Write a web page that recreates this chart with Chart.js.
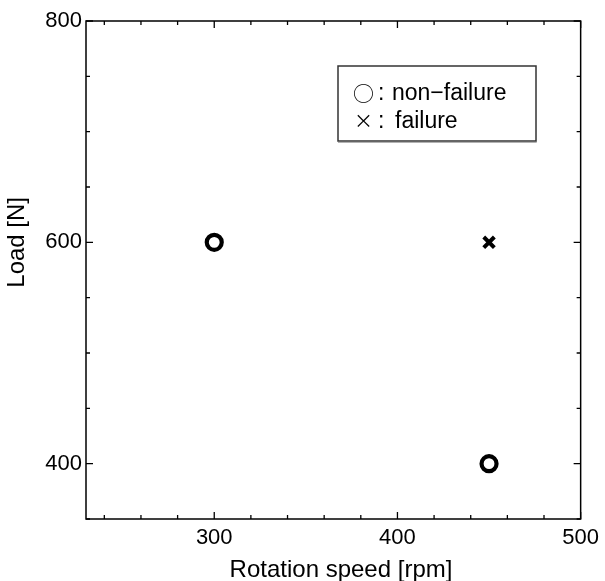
<!DOCTYPE html>
<html>
<head>
<meta charset="utf-8">
<script src="https://cdn.jsdelivr.net/npm/chart.js@4.4.1/dist/chart.umd.min.js"></script>
<style>
  html, body { margin: 0; padding: 0; background: #fff; }
  #wrap { width: 605px; height: 581px; }
</style>
</head>
<body>
<div id="wrap"><canvas id="c" width="605" height="581"></canvas></div>
<script>
// ---- data ----
const nonFailureSpeed = [300, 450];
const nonFailureLoad  = [600, 400];
const failureSpeed = [450];
const failureLoad  = [600];

const xMin = 230, xMax = 500;
const yMin = 350, yMax = 800;
const xMajorTicks = [300, 400, 500];
const xMinorTicks = [240, 260, 280, 320, 340, 360, 380, 420, 440, 460, 480];
const yMajorTicks = [400, 600, 800];
const yMinorTicks = [350, 450, 500, 550, 650, 700, 750];

const xTitle = 'Rotation speed [rpm]';
const yTitle = 'Load [N]';
const legendLines = [
  { sym: '○', text: 'non−failure' },
  { sym: '×', text: 'failure' }
];

const FONT = '"Liberation Sans", Arial, sans-serif';
const SYMFONT = '"Noto Sans CJK JP", "DejaVu Sans", sans-serif';

function allTicks(maj, min) {
  return maj.concat(min).sort((a, b) => a - b).map(v => ({ value: v }));
}

const framePlugin = {
  id: 'frame',
  afterDraw(chart) {
    const ctx = chart.ctx;
    const a = chart.chartArea;
    const xs = chart.scales.x, ys = chart.scales.y;
    ctx.save();
    ctx.strokeStyle = '#000';
    ctx.lineWidth = 1.5;
    ctx.strokeRect(a.left, a.top, a.right - a.left, a.bottom - a.top);
    ctx.lineWidth = 1.3;
    const majL = 7, minL = 4;
    ctx.beginPath();
    xMajorTicks.concat(xMinorTicks).forEach(v => {
      const L = xMajorTicks.includes(v) ? majL : minL;
      const px = xs.getPixelForValue(v);
      ctx.moveTo(px, a.bottom); ctx.lineTo(px, a.bottom - L);
      ctx.moveTo(px, a.top); ctx.lineTo(px, a.top + L);
    });
    yMajorTicks.concat(yMinorTicks).forEach(v => {
      const L = yMajorTicks.includes(v) ? majL : minL;
      const py = ys.getPixelForValue(v);
      ctx.moveTo(a.left, py); ctx.lineTo(a.left + L, py);
      ctx.moveTo(a.right, py); ctx.lineTo(a.right - L, py);
    });
    ctx.stroke();

    // axis titles
    ctx.fillStyle = '#000';
    ctx.font = '24px ' + FONT;
    ctx.textAlign = 'center';
    ctx.textBaseline = 'alphabetic';
    ctx.fillText(xTitle, 341, 577);
    ctx.save();
    ctx.translate(24, ys.getPixelForValue(600));
    ctx.rotate(-Math.PI / 2);
    ctx.fillText(yTitle, 0, 0);
    ctx.restore();

    // legend box
    const bx = 338, by = 66, bw = 198, bh = 75;
    ctx.fillStyle = '#fff';
    ctx.fillRect(bx, by, bw, bh);
    ctx.strokeStyle = '#333';
    ctx.lineWidth = 1.5;
    ctx.strokeRect(bx, by, bw, bh);
    ctx.strokeStyle = '#666';
    ctx.lineWidth = 1.2;
    ctx.beginPath();
    ctx.moveTo(bx, by + bh + 1); ctx.lineTo(bx + bw + 0.7, by + bh + 1);
    ctx.stroke();

    ctx.fillStyle = '#000';
    ctx.textAlign = 'center';
    const baselines = [100, 128];
    const symCenters = [363.5, 363.5];
    legendLines.forEach((ln, i) => {
      ctx.font = (i === 0 ? '21px ' : '19px ') + SYMFONT;
      ctx.fillText(ln.sym, symCenters[i], baselines[i] + (i === 0 ? 1 : 0));
    });
    ctx.font = '23px ' + FONT;
    ctx.textAlign = 'left';
    legendLines.forEach((ln, i) => {
      ctx.fillText(':', 378, baselines[i]);
      ctx.fillText(ln.text, i === 0 ? 392 : 395, baselines[i]);
    });
    ctx.restore();
  }
};

new Chart(document.getElementById('c'), {
  type: 'scatter',
  data: {
    datasets: [
      {
        label: 'non-failure',
        data: nonFailureSpeed.map((x, i) => ({ x, y: nonFailureLoad[i] })),
        pointStyle: 'circle',
        pointRadius: 7.5,
        pointBorderWidth: 4.2,
        pointBorderColor: '#000',
        pointBackgroundColor: 'rgba(0,0,0,0)'
      },
      {
        label: 'failure',
        data: failureSpeed.map((x, i) => ({ x, y: failureLoad[i] })),
        pointStyle: 'crossRot',
        pointRadius: 7.5,
        pointBorderWidth: 4,
        pointBorderColor: '#000',
        pointBackgroundColor: '#000'
      }
    ]
  },
  options: {
    responsive: false,
    animation: false,
    events: [],
    layout: { padding: { left: 0, top: 21, right: 22, bottom: 0 } },
    plugins: { legend: { display: false }, tooltip: { enabled: false }, title: { display: false } },
    scales: {
      x: {
        type: 'linear', min: xMin, max: xMax,
        grid: { display: false, drawTicks: false },
        border: { display: false },
        afterBuildTicks: s => { s.ticks = allTicks(xMajorTicks, xMinorTicks); },
        afterFit: s => { s.height = 62; },
        ticks: {
          autoSkip: false, maxRotation: 0, padding: 6,
          color: '#000', font: { family: FONT, size: 22 },
          callback: v => xMajorTicks.includes(v) ? String(v) : ''
        }
      },
      y: {
        type: 'linear', min: yMin, max: yMax,
        grid: { display: false, drawTicks: false },
        border: { display: false },
        afterBuildTicks: s => { s.ticks = allTicks(yMajorTicks, yMinorTicks); },
        afterFit: s => { s.width = 86; },
        ticks: {
          autoSkip: false, padding: 4,
          color: '#000', font: { family: FONT, size: 22 },
          callback: v => yMajorTicks.includes(v) ? String(v) : ''
        }
      }
    }
  },
  plugins: [framePlugin]
});
</script>
</body>
</html>
